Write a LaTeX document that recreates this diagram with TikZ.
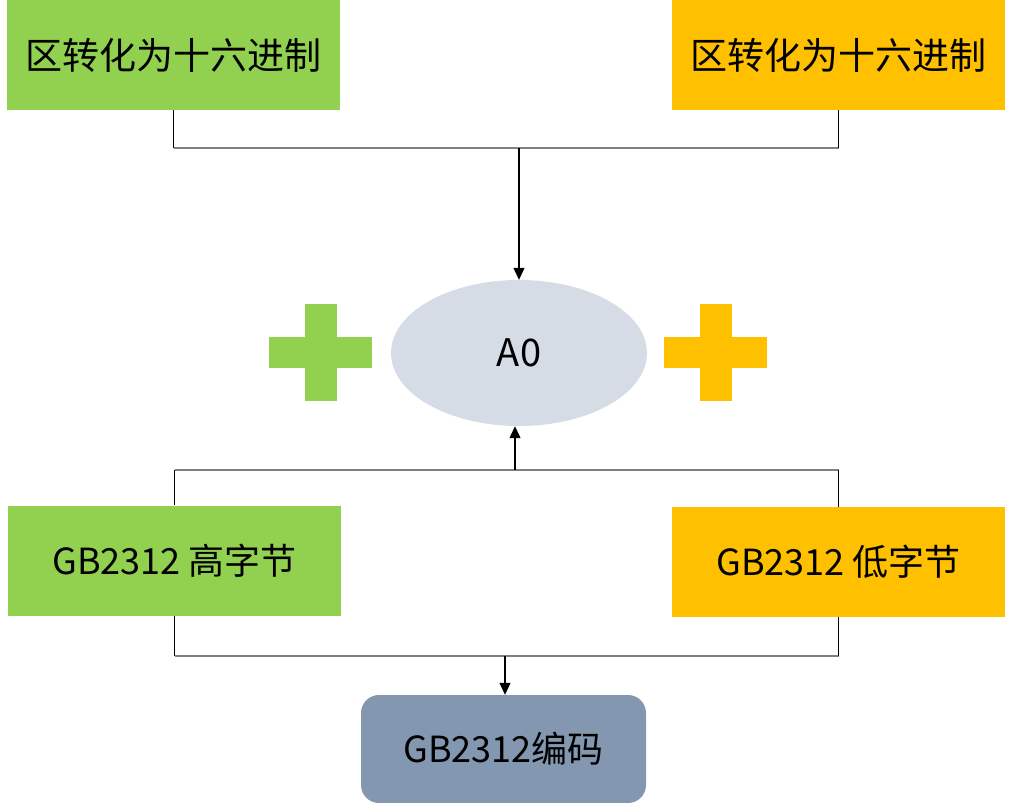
\documentclass[tikz,border=0pt]{standalone}
\usepackage{fontspec}
\setmainfont{Noto Sans CJK SC}
\usetikzlibrary{arrows.meta,shapes.geometric}
\definecolor{grn}{HTML}{92D050}
\definecolor{org}{HTML}{FFC000}
\definecolor{ellc}{HTML}{D6DCE5}
\definecolor{bbc}{HTML}{8497B0}
\definecolor{hgray}{HTML}{808080}
\begin{document}
\begin{tikzpicture}[x=1pt,y=-1pt,
  box/.style={rectangle, draw=none, inner sep=0pt, minimum width=333pt, minimum height=110pt},
  ttxt/.style={font=\fontsize{37}{42}\selectfont},
  mtxt/.style={font=\fontsize{36}{42}\selectfont},
  vline/.style={black, line width=1.2pt},
  hline/.style={hgray, line width=1.8pt},
  arr/.style={vline, -{Triangle[length=12pt,width=11pt]}}
]
\useasboundingbox (0,0) rectangle (1012,803);
% top boxes
\node[box, fill=grn, ttxt] (tl) at (173.5,55) {区转化为十六进制};
\node[box, fill=org, ttxt] (tr) at (838.5,55) {区转化为十六进制};
% ellipse
\node[ellipse, fill=ellc, minimum width=256pt, minimum height=146pt, inner sep=0pt, font=\fontsize{38}{44}\selectfont] (ell) at (519,353) {A0};
% plus signs
\fill[grn] (305,304) rectangle (337,401);
\fill[grn] (269,337) rectangle (372,368);
\fill[org] (700,304) rectangle (732,401);
\fill[org] (664,337) rectangle (767,368);
% middle boxes
\node[box, fill=grn, mtxt] (ml) at (174.5,560.5) {GB2312 高字节};
\node[box, fill=org, mtxt] (mr) at (838.5,562) {GB2312 低字节};
% bottom box
\node[rectangle, rounded corners=18pt, fill=bbc, minimum width=285pt, minimum height=108pt, inner sep=0pt, mtxt] (bb) at (503.5,749) {GB2312编码};
% junction coordinates
\coordinate (j1) at (519,148);
\coordinate (j2) at (515,470);
\coordinate (j3) at (505,656);
% top connectors
\draw[hline] (tl.south |- j1) -- (tr.south |- j1);
\draw[vline] (tl.south) -- (tl.south |- j1);
\draw[vline] (tr.south) -- (tr.south |- j1);
\draw[arr] (j1) -- (ell.north);
% middle connectors
\draw[hline] (ml.north |- j2) -- (mr.north |- j2);
\draw[vline] (ml.north) -- (ml.north |- j2);
\draw[vline] (mr.north) -- (mr.north |- j2);
\draw[arr] (j2) -- (j2 |- ell.south);
% bottom connectors
\draw[hline] (ml.south |- j3) -- (mr.south |- j3);
\draw[vline] (ml.south) -- (ml.south |- j3);
\draw[vline] (mr.south) -- (mr.south |- j3);
\draw[arr] (j3) -- (j3 |- bb.north);
\end{tikzpicture}
\end{document}
